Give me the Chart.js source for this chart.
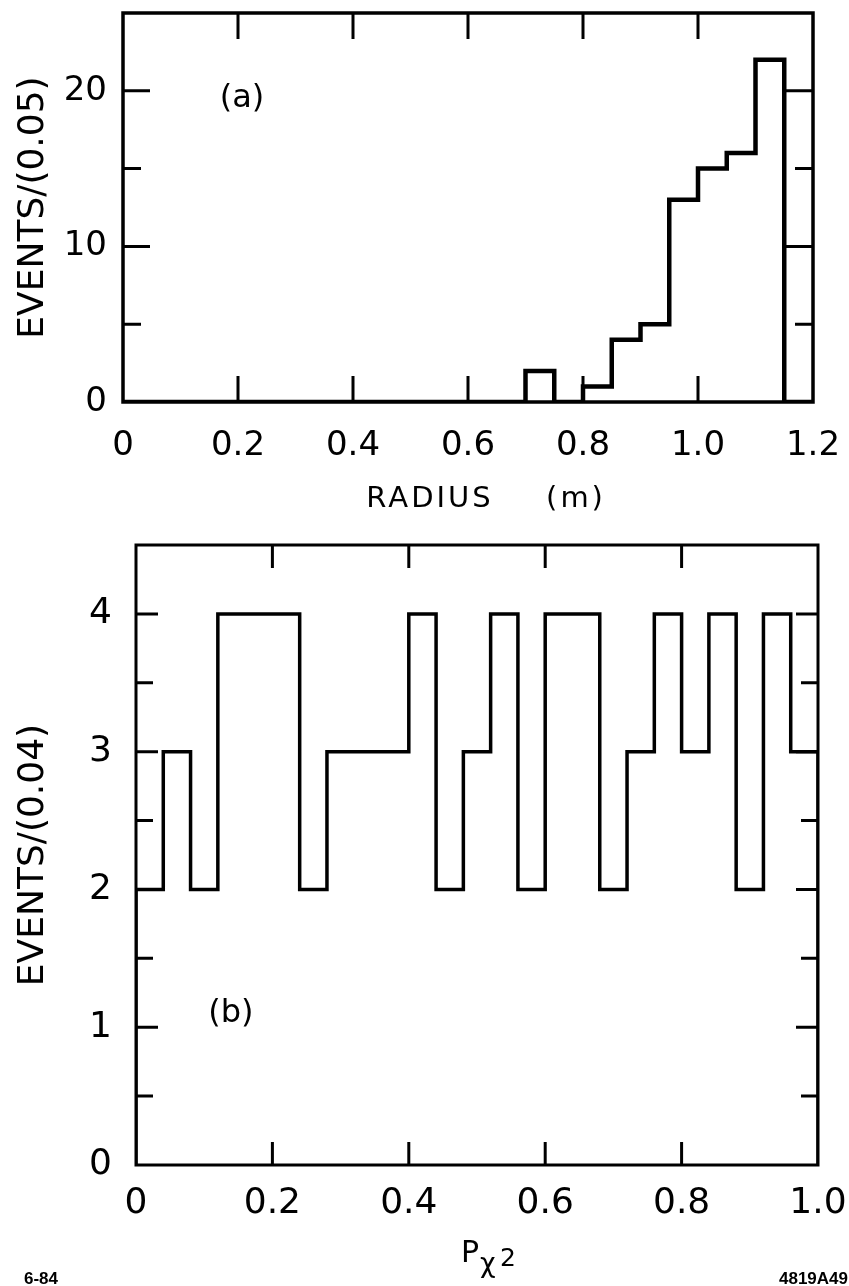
<!DOCTYPE html>
<html>
<head>
<meta charset="utf-8">
<script src="https://cdn.jsdelivr.net/npm/chart.js@4"></script>
<style>
  html, body { margin: 0; padding: 0; background: #fff; }
  #wrap { position: relative; width: 849px; height: 1286px; }
  canvas { position: absolute; left: 0; }
  #cA { top: 0; }
  #cB { top: 520px; }
</style>
</head>
<body>
<div id="wrap">
  <canvas id="cA" width="849" height="520"></canvas>
  <canvas id="cB" width="849" height="766"></canvas>
</div>
<script>
// panel (a): radius, bins of 0.05 m
const radiusEdges = [0, 0.05, 0.10, 0.15, 0.20, 0.25, 0.30, 0.35, 0.40, 0.45, 0.50, 0.55,
    0.60, 0.65, 0.70, 0.75, 0.80, 0.85, 0.90, 0.95, 1.00, 1.05, 1.10, 1.15, 1.20];
const radiusCounts = [0, 0, 0, 0, 0, 0, 0, 0, 0, 0, 0, 0,
    0, 0, 2, 0, 1, 4, 5, 13, 15, 16, 22, 0];
const radiusTicks = ['0', '0.2', '0.4', '0.6', '0.8', '1.0', '1.2'];
const eventsATicks = ['0', '', '10', '', '20', ''];

// panel (b): chi2 probability, bins of 0.04
const probEdges = [0, 0.04, 0.08, 0.12, 0.16, 0.20, 0.24, 0.28, 0.32, 0.36, 0.40, 0.44, 0.48,
    0.52, 0.56, 0.60, 0.64, 0.68, 0.72, 0.76, 0.80, 0.84, 0.88, 0.92, 0.96, 1.00];
const probCounts = [2, 3, 2, 4, 4, 4, 2, 3, 3, 3, 4, 2, 3,
    4, 2, 4, 4, 2, 3, 4, 3, 4, 2, 4, 3];
const probTicks = ['0', '0.2', '0.4', '0.6', '0.8', '1.0'];
const eventsBTicks = ['0', '', '1', '', '2', '', '3', '', '4', ''];

const FONT = "'DejaVu Sans', sans-serif";

function histPoints(edges, counts) {
    const pts = [{ x: edges[0], y: 0 }];
    counts.forEach((c, i) => pts.push({ x: edges[i], y: c }));
    pts.push({ x: edges[edges.length - 1], y: 0 });
    return pts;
}

// box round the plot and ticks pointing inward on all four sides
function framePlugin(o) {
    return {
        id: 'frame',
        afterDatasetsDraw(chart) {
            const { ctx, chartArea: a, scales: { x, y } } = chart;
            ctx.save();
            ctx.strokeStyle = '#000';
            ctx.lineCap = 'butt';
            ctx.lineWidth = o.frame;
            ctx.strokeRect(a.left, a.top, a.right - a.left, a.bottom - a.top);
            ctx.lineWidth = o.tickW;
            ctx.beginPath();
            x.ticks.forEach(t => {
                if (t.value <= x.min || t.value >= x.max) return;
                const px = x.getPixelForValue(t.value);
                ctx.moveTo(px, a.bottom); ctx.lineTo(px, a.bottom - o.xTick);
                ctx.moveTo(px, a.top); ctx.lineTo(px, a.top + o.xTick);
            });
            y.ticks.forEach(t => {
                if (t.value <= y.min || t.value >= y.max) return;
                const py = y.getPixelForValue(t.value);
                const len = t.label ? o.yMajor : o.yMinor;
                ctx.moveTo(a.left, py); ctx.lineTo(a.left + len, py);
                ctx.moveTo(a.right, py); ctx.lineTo(a.right - len, py);
            });
            ctx.stroke();
            ctx.fillStyle = '#000';
            o.extra(chart, ctx);
            ctx.restore();
        }
    };
}

function axisX(min, max, step, labels, size, pad, h) {
    return {
        type: 'linear', min, max,
        grid: { display: false, drawTicks: false }, border: { display: false },
        ticks: { stepSize: step, padding: pad, color: '#000', autoSkip: false, maxRotation: 0,
                 font: { family: FONT, size }, callback: (v, i) => labels[i] },
        afterFit: s => { s.height = h; s.paddingLeft = 0; s.paddingRight = 0; }
    };
}

function axisY(min, max, step, labels, size, pad, w, title) {
    return {
        type: 'linear', min, max,
        grid: { display: false, drawTicks: false }, border: { display: false },
        ticks: { stepSize: step, padding: pad, color: '#000', autoSkip: false,
                 font: { family: FONT, size }, callback: (v, i) => labels[i] },
        title: { display: true, text: title, color: '#000', padding: { top: 12, bottom: 0 },
                 font: { family: FONT, size: 36 } },
        afterFit: s => { s.width = w; s.paddingTop = 0; s.paddingBottom = 0; }
    };
}

function lineSet(edges, counts, w) {
    return {
        data: histPoints(edges, counts),
        stepped: true,
        borderColor: '#000',
        borderWidth: w,
        borderJoinStyle: 'miter',
        pointRadius: 0,
        fill: false
    };
}

const common = {
    responsive: false,
    animation: false,
    devicePixelRatio: 1,
    plugins: { legend: { display: false }, tooltip: { enabled: false } }
};

new Chart(document.getElementById('cA'), {
    type: 'line',
    data: { datasets: [lineSet(radiusEdges, radiusCounts, 4.5)] },
    options: {
        ...common,
        layout: { padding: { top: 13, right: 36, left: 0, bottom: 0 } },
        scales: {
            x: axisX(0, 1.2, 0.2, radiusTicks, 34, 24, 118),
            y: axisY(0, 25, 5, eventsATicks, 34, 16, 123, 'EVENTS/(0.05)')
        }
    },
    plugins: [framePlugin({
        frame: 3.5, tickW: 3, xTick: 26, yMajor: 27, yMinor: 18,
        extra(chart, ctx) {
            const { x, y } = chart.scales;
            ctx.font = '32px ' + FONT;
            ctx.textAlign = 'center';
            ctx.textBaseline = 'middle';
            ctx.fillText('(a)', x.getPixelForValue(0.207), y.getPixelForValue(19.5));
            ctx.font = '29px ' + FONT;
            ctx.letterSpacing = '3px';
            ctx.textBaseline = 'alphabetic';
            ctx.fillText('RADIUS', 430, 507);
            ctx.fillText('(m)', 576, 507);
            ctx.letterSpacing = '0px';
        }
    })]
});

new Chart(document.getElementById('cB'), {
    type: 'line',
    data: { datasets: [lineSet(probEdges, probCounts, 3.5)] },
    options: {
        ...common,
        layout: { padding: { top: 25, right: 31, left: 0, bottom: 0 } },
        scales: {
            x: axisX(0, 1.0, 0.2, probTicks, 36, 17, 121),
            y: axisY(0, 4.5, 0.5, eventsBTicks, 36, 24, 136, 'EVENTS/(0.04)')
        }
    },
    plugins: [framePlugin({
        frame: 3, tickW: 3, xTick: 23, yMajor: 22, yMinor: 17,
        extra(chart, ctx) {
            const { x, y } = chart.scales;
            ctx.font = '32px ' + FONT;
            ctx.textAlign = 'center';
            ctx.textBaseline = 'middle';
            ctx.fillText('(b)', x.getPixelForValue(0.139), y.getPixelForValue(1.1));
            ctx.textAlign = 'left';
            ctx.textBaseline = 'alphabetic';
            ctx.font = '30px ' + FONT;
            ctx.fillText('P', 461, 742);
            ctx.font = '27px ' + FONT;
            ctx.fillText('\u03c7', 480, 752);
            ctx.font = '25px ' + FONT;
            ctx.fillText('2', 500, 746);
            ctx.font = 'bold 17px "Liberation Sans", sans-serif';
            ctx.fillText('6-84', 24, 764);
            ctx.textAlign = 'right';
            ctx.fillText('4819A49', 848, 764);
        }
    })]
});
</script>
</body>
</html>
